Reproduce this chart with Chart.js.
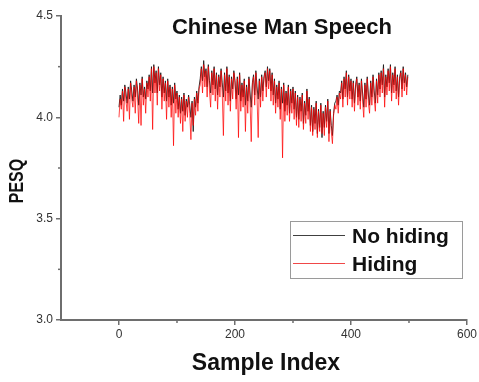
<!DOCTYPE html>
<html>
<head>
<meta charset="utf-8">
<script src="https://cdn.jsdelivr.net/npm/chart.js@4.4.1/dist/chart.umd.min.js"></script>
<style>
  html, body { margin: 0; padding: 0; background: #fff; }
  #wrap { width: 479px; height: 382px; position: relative; }
</style>
</head>
<body>
<div id="wrap"><canvas id="myChart"></canvas></div>
<script>
// Sample index step between stored points (every 2nd sample)
const sampleStep = 2;

// PESQ, no hiding (black)
const noHiding = [
  4.05,4.11,4.06,4.14,4.08,4.16,4.12,4.07,4.15,4.09,4.18,4.13,4.08,4.16,4.10,4.19,4.14,4.06,4.17,4.11,4.20,4.10,4.15,4.09,4.18,
  4.14,4.21,4.13,4.25,4.12,4.26,4.17,4.23,4.12,4.25,4.16,4.22,4.10,4.20,4.12,4.18,4.08,4.19,4.10,4.16,4.06,4.15,4.07,4.17,4.09,
  4.13,4.04,4.11,4.02,4.10,4.03,4.12,4.01,4.09,4.05,4.11,4.06,4.00,4.08,3.93,4.10,4.05,4.13,4.07,4.15,4.19,4.25,4.18,4.28,4.20,
  4.24,4.15,4.26,4.18,4.12,4.23,4.16,4.25,4.14,4.22,4.11,4.21,4.15,4.24,4.17,4.10,4.22,4.13,4.25,4.12,4.21,4.08,4.20,4.14,4.23,
  4.18,4.09,4.20,4.11,4.22,4.08,4.17,4.10,4.19,4.06,4.16,4.08,4.20,4.12,4.05,4.17,4.21,4.11,4.23,4.15,4.09,4.19,4.10,4.21,4.13,
  4.20,4.23,4.15,4.25,4.18,4.24,4.13,4.22,4.11,4.19,4.07,4.16,4.09,4.18,4.04,4.15,4.07,4.17,4.03,4.13,4.06,4.16,4.02,4.14,4.07,
  4.15,4.04,4.13,4.00,4.11,3.99,4.10,4.03,4.12,3.97,4.08,4.01,4.14,4.03,4.10,3.96,4.06,3.93,4.05,3.97,4.08,3.92,4.04,3.95,4.07,
  3.90,4.03,3.95,4.06,3.98,4.09,3.92,4.04,3.96,3.91,4.02,4.07,4.08,4.11,4.06,4.13,4.12,4.18,4.09,4.20,4.14,4.23,4.10,4.21,4.13,
  4.19,4.09,4.18,4.07,4.16,4.20,4.10,4.17,4.08,4.19,4.12,4.05,4.17,4.09,4.20,4.11,4.06,4.18,4.10,4.21,4.13,4.07,4.19,4.11,4.22,
  4.14,4.23,4.16,4.26,4.10,4.21,4.15,4.24,4.17,4.26,4.12,4.22,4.16,4.25,4.13,4.21,4.10,4.20,4.23,4.14,4.25,4.17,4.22,4.15,4.21
];

// PESQ, hiding (red)
const hiding = [
  4.00,4.09,4.04,4.13,3.98,4.15,4.08,4.03,4.14,3.99,4.17,4.09,4.05,4.15,4.02,4.18,4.10,3.97,4.16,3.96,4.19,4.06,4.14,4.02,4.17,
  4.10,4.20,4.08,4.24,3.94,4.25,4.12,4.22,4.06,4.24,4.13,4.21,4.04,4.19,4.08,4.17,3.99,4.18,4.05,4.15,4.00,4.14,3.86,4.16,4.02,
  4.12,4.00,4.10,3.97,4.09,3.93,4.11,3.98,4.08,4.00,4.10,4.02,3.89,4.07,3.96,4.09,4.01,4.12,4.03,4.14,4.16,4.24,4.12,4.26,4.15,
  4.23,4.10,4.25,4.13,4.05,4.22,4.11,4.24,4.08,4.21,4.04,4.20,4.10,4.23,4.12,3.91,4.21,4.08,4.24,4.06,4.20,4.03,4.19,4.09,4.22,
  4.17,4.04,4.19,3.90,4.21,4.03,4.16,4.05,4.18,3.93,4.15,4.02,4.19,4.07,3.88,4.16,4.20,4.06,4.22,4.10,3.90,4.18,4.05,4.20,4.08,
  4.19,4.22,4.10,4.24,4.14,4.23,4.08,4.21,4.06,4.18,4.02,4.15,4.05,4.17,3.99,4.14,3.80,4.16,3.98,4.12,4.01,4.15,3.98,4.13,4.02,
  4.14,3.99,4.12,3.96,4.10,3.95,4.09,3.98,4.11,3.94,4.07,3.97,4.13,3.99,4.09,3.93,4.05,3.91,4.04,3.94,4.07,3.90,4.03,3.93,4.06,
  3.92,4.02,3.91,4.05,3.95,4.08,3.88,4.03,3.93,3.87,4.01,4.06,4.04,4.10,4.02,4.12,4.09,4.17,4.05,4.19,4.10,4.22,4.06,4.20,4.09,
  4.18,4.05,4.17,4.03,4.15,4.19,4.06,4.16,4.04,4.18,4.08,4.00,4.16,4.05,4.19,4.07,4.02,4.17,4.06,4.20,4.09,4.03,4.18,4.07,4.21,
  4.10,4.22,4.12,4.24,4.05,4.20,4.11,4.23,4.13,4.25,4.08,4.21,4.12,4.24,4.09,4.20,4.06,4.19,4.22,4.10,4.24,4.13,4.21,4.11,4.20
];

// Tick labels
const xTicks = [0, 200, 400, 600];
const xMinorTicks = [100, 300, 500];
const yTicks = [3.0, 3.5, 4.0, 4.5];
const yMinorTicks = [3.25, 3.75, 4.25];

const seriesNames = ['No hiding', 'Hiding'];

const toPoints = arr => arr.map((v, i) => ({ x: i * sampleStep, y: v }));

const axisColor = '#6e6e6e';
const fontFam = 'Arial, "Liberation Sans", sans-serif';

// Draws title, axis titles, minor ticks and the boxed legend
const decorPlugin = {
  id: 'decor',
  afterDraw(chart) {
    const ctx = chart.ctx;
    const xs = chart.scales.x, ys = chart.scales.y;
    const area = chart.chartArea;
    ctx.save();

    // minor ticks
    ctx.strokeStyle = axisColor;
    ctx.lineWidth = 1.5;
    xMinorTicks.forEach(v => {
      const px = xs.getPixelForValue(v);
      ctx.beginPath(); ctx.moveTo(px, area.bottom); ctx.lineTo(px, area.bottom + 3); ctx.stroke();
    });
    yMinorTicks.forEach(v => {
      const py = ys.getPixelForValue(v);
      ctx.beginPath(); ctx.moveTo(area.left, py); ctx.lineTo(area.left - 3, py); ctx.stroke();
    });

    // chart title
    ctx.fillStyle = '#111';
    ctx.font = 'bold 22px ' + fontFam;
    ctx.textAlign = 'center';
    ctx.textBaseline = 'alphabetic';
    ctx.fillText('Chinese Man Speech', 282, 34);

    // x axis title
    ctx.font = 'bold 23px ' + fontFam;
    ctx.fillText('Sample Index', 266, 370);

    // y axis title (narrow glyphs, as in the original)
    ctx.save();
    ctx.translate(23, 181);
    ctx.rotate(-Math.PI / 2);
    ctx.scale(0.76, 1);
    ctx.font = 'bold 21px ' + fontFam;
    ctx.fillText('PESQ', 0, 0);
    ctx.restore();

    // legend box
    ctx.strokeStyle = '#9a9a9a';
    ctx.lineWidth = 1;
    ctx.strokeRect(290.5, 221.5, 172, 57);
    const colors = ['#404040', '#f04848'];
    const rows = [235, 263];
    ctx.textAlign = 'left';
    ctx.font = 'bold 21px ' + fontFam;
    seriesNames.forEach((name, i) => {
      ctx.strokeStyle = colors[i];
      ctx.lineWidth = 1;
      ctx.beginPath(); ctx.moveTo(293, rows[i] + 0.5); ctx.lineTo(345, rows[i] + 0.5); ctx.stroke();
      ctx.fillStyle = '#111';
      ctx.fillText(name, 352, rows[i] + 8);
    });

    ctx.restore();
  }
};

const ctx = document.getElementById('myChart').getContext('2d');
const myChart = new Chart(ctx, {
  type: 'line',
  data: {
    datasets: [
      {
        label: seriesNames[0],
        data: toPoints(noHiding),
        borderColor: 'rgba(30,30,30,0.9)',
        borderWidth: 1,
        pointRadius: 0,
        tension: 0,
        order: 2
      },
      {
        label: seriesNames[1],
        data: toPoints(hiding),
        borderColor: 'rgba(255,0,0,0.72)',
        borderWidth: 1,
        pointRadius: 0,
        tension: 0,
        order: 1
      }
    ]
  },
  options: {
    responsive: true,
    maintainAspectRatio: false,
    animation: false,
    layout: { padding: { top: 16, right: 10, left: 0, bottom: 0 } },
    plugins: {
      legend: { display: false },
      tooltip: { enabled: false }
    },
    scales: {
      x: {
        type: 'linear',
        min: -100,
        max: 600,
        afterBuildTicks: s => { s.ticks = xTicks.map(v => ({ value: v })); },
        afterFit: s => { s.height = 62; },
        border: { color: axisColor, width: 2 },
        grid: { drawOnChartArea: false, drawTicks: true, tickLength: 5, color: axisColor, lineWidth: 1.5 },
        ticks: { color: '#333', font: { family: fontFam, size: 12 }, padding: 2, maxRotation: 0 }
      },
      y: {
        min: 3.0,
        max: 4.5,
        afterBuildTicks: s => { s.ticks = yTicks.map(v => ({ value: v })); },
        afterFit: s => { s.width = 61; },
        border: { color: axisColor, width: 2 },
        grid: { drawOnChartArea: false, drawTicks: true, tickLength: 5, color: axisColor, lineWidth: 1.5 },
        ticks: { color: '#333', font: { family: fontFam, size: 12 }, padding: 3, callback: v => v.toFixed(1) }
      }
    }
  },
  plugins: [decorPlugin]
});
</script>
</body>
</html>
